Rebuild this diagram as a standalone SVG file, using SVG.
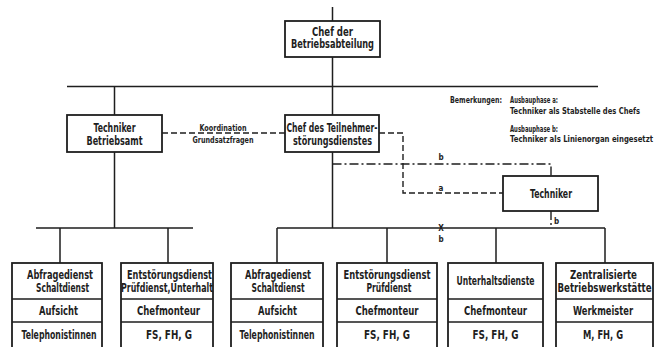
<svg xmlns="http://www.w3.org/2000/svg" width="663" height="347" viewBox="0 0 663 347">
<style>
text{font-family:"Liberation Sans Narrow","DejaVu Sans Condensed","Arial Narrow",sans-serif;font-weight:bold;fill:#1e1e1e;text-anchor:middle}
.t{font-size:11.5px}
.s{font-size:8.5px}
.l{font-size:8px}
.n{text-anchor:start}
.box{fill:#fff;stroke:#1e1e1e;stroke-width:1.8}
.ln{fill:none;stroke:#1e1e1e;stroke-width:1.5}
.da{fill:none;stroke:#1e1e1e;stroke-width:1.4;stroke-dasharray:6 3}
.dd{fill:none;stroke:#1e1e1e;stroke-width:1.4;stroke-dasharray:9 3 2 3}
</style>
<rect width="663" height="347" fill="#fff"/>
<g id="connectors">
<path class="ln" d="M332.5 7V21M332.5 57V115M67 86.5H598M114.5 86.5V115M114.5 152V228M36 228H193M60 228V263M168 228V263M332.5 152V228M277 228H605M277 228V263M387 228V263M496 228V263M605 228V263"/>
<path class="da" d="M162 133H285"/>
<path class="da" d="M379 133H403V193H503"/>
<path class="dd" d="M332.5 164H551V176"/>
<path class="dd" d="M551 211V228"/>
<text class="l" x="223" y="131" textLength="47" lengthAdjust="spacingAndGlyphs">Koordination</text>
<text class="l" x="223" y="143" textLength="61" lengthAdjust="spacingAndGlyphs">Grundsatzfragen</text>
<text class="l" x="441" y="160">b</text>
<text class="l" x="441" y="191">a</text>
<text class="l n" x="554" y="224">b</text>
<text class="l" x="441" y="231">X</text>
<text class="l" x="441" y="242">b</text>
</g>
<g id="chef-betriebsabteilung">
<rect class="box" x="285" y="21" width="95" height="36"/>
<text class="t" x="332.5" y="36" textLength="41" lengthAdjust="spacingAndGlyphs">Chef der</text>
<text class="t" x="332.5" y="48" textLength="83" lengthAdjust="spacingAndGlyphs">Betriebsabteilung</text>
</g>
<g id="techniker-betriebsamt">
<rect class="box" x="67" y="115" width="95" height="37"/>
<text class="t" x="114.5" y="132" textLength="42" lengthAdjust="spacingAndGlyphs">Techniker</text>
<text class="t" x="114.5" y="145" textLength="56" lengthAdjust="spacingAndGlyphs">Betriebsamt</text>
</g>
<g id="chef-teilnehmer">
<rect class="box" x="285" y="115" width="94" height="37"/>
<text class="t" x="332" y="132" textLength="91" lengthAdjust="spacingAndGlyphs">Chef des Teilnehmer-</text>
<text class="t" x="332.5" y="145" textLength="79" lengthAdjust="spacingAndGlyphs">störungsdienstes</text>
</g>
<g id="techniker">
<rect class="box" x="503" y="176" width="95" height="35"/>
<text class="t" x="551" y="198" textLength="42" lengthAdjust="spacingAndGlyphs">Techniker</text>
</g>
<g id="bemerkungen">
<text class="s n" x="450" y="103" textLength="52" lengthAdjust="spacingAndGlyphs">Bemerkungen:</text>
<text class="s n" x="510" y="103" textLength="48" lengthAdjust="spacingAndGlyphs">Ausbauphase a:</text>
<text class="s n" x="510" y="113.5" textLength="130" lengthAdjust="spacingAndGlyphs">Techniker als Stabstelle des Chefs</text>
<text class="s n" x="510" y="131.5" textLength="48" lengthAdjust="spacingAndGlyphs">Ausbauphase b:</text>
<text class="s n" x="510" y="142" textLength="143" lengthAdjust="spacingAndGlyphs">Techniker als Linienorgan eingesetzt</text>
</g>
<g id="box1">
<rect class="box" x="12" y="263" width="90" height="90"/>
<path class="ln" d="M12 299H102M12 322H102"/>
<text class="t" x="60" y="279" textLength="66" lengthAdjust="spacingAndGlyphs">Abfragedienst</text>
<text class="t" x="62.5" y="292" textLength="53" lengthAdjust="spacingAndGlyphs">Schaltdienst</text>
<text class="t" x="58.5" y="315" textLength="39" lengthAdjust="spacingAndGlyphs">Aufsicht</text>
<text class="t" x="59" y="339" textLength="75" lengthAdjust="spacingAndGlyphs">Telephonistinnen</text>
</g>
<g id="box2">
<rect class="box" x="121" y="263" width="92" height="90"/>
<path class="ln" d="M121 299H213M121 322H213"/>
<text class="t" x="169.5" y="279" textLength="85" lengthAdjust="spacingAndGlyphs">Entstörungsdienst</text>
<text class="t" x="167" y="292" textLength="92" lengthAdjust="spacingAndGlyphs">Prüfdienst,Unterhalt</text>
<text class="t" x="168.5" y="315" textLength="63" lengthAdjust="spacingAndGlyphs">Chefmonteur</text>
<text class="t" x="169" y="339" textLength="46" lengthAdjust="spacingAndGlyphs">FS, FH, G</text>
</g>
<g id="box3">
<rect class="box" x="231" y="263" width="92" height="90"/>
<path class="ln" d="M231 299H323M231 322H323"/>
<text class="t" x="278" y="279" textLength="66" lengthAdjust="spacingAndGlyphs">Abfragedienst</text>
<text class="t" x="278" y="292" textLength="53" lengthAdjust="spacingAndGlyphs">Schaltdienst</text>
<text class="t" x="277.5" y="315" textLength="39" lengthAdjust="spacingAndGlyphs">Aufsicht</text>
<text class="t" x="277" y="339" textLength="75" lengthAdjust="spacingAndGlyphs">Telephonistinnen</text>
</g>
<g id="box4">
<rect class="box" x="337" y="263" width="100" height="90"/>
<path class="ln" d="M337 299H437M337 322H437"/>
<text class="t" x="387" y="279" textLength="87" lengthAdjust="spacingAndGlyphs">Entstörungsdienst</text>
<text class="t" x="389" y="292" textLength="45" lengthAdjust="spacingAndGlyphs">Prüfdienst</text>
<text class="t" x="387" y="315" textLength="63" lengthAdjust="spacingAndGlyphs">Chefmonteur</text>
<text class="t" x="387" y="339" textLength="46" lengthAdjust="spacingAndGlyphs">FS, FH, G</text>
</g>
<g id="box5">
<rect class="box" x="448" y="263" width="95" height="90"/>
<path class="ln" d="M448 299H543M448 322H543"/>
<text class="t" x="495.5" y="285" textLength="78" lengthAdjust="spacingAndGlyphs">Unterhaltsdienste</text>
<text class="t" x="495.5" y="315" textLength="63" lengthAdjust="spacingAndGlyphs">Chefmonteur</text>
<text class="t" x="495.5" y="339" textLength="46" lengthAdjust="spacingAndGlyphs">FS, FH, G</text>
</g>
<g id="box6">
<rect class="box" x="556" y="263" width="97" height="90"/>
<path class="ln" d="M556 299H653M556 322H653"/>
<text class="t" x="603.5" y="279" textLength="67" lengthAdjust="spacingAndGlyphs">Zentralisierte</text>
<text class="t" x="604.5" y="292" textLength="94" lengthAdjust="spacingAndGlyphs">Betriebswerkstätte</text>
<text class="t" x="603" y="315" textLength="60" lengthAdjust="spacingAndGlyphs">Werkmeister</text>
<text class="t" x="603" y="339" textLength="40" lengthAdjust="spacingAndGlyphs">M, FH, G</text>
</g>
</svg>
